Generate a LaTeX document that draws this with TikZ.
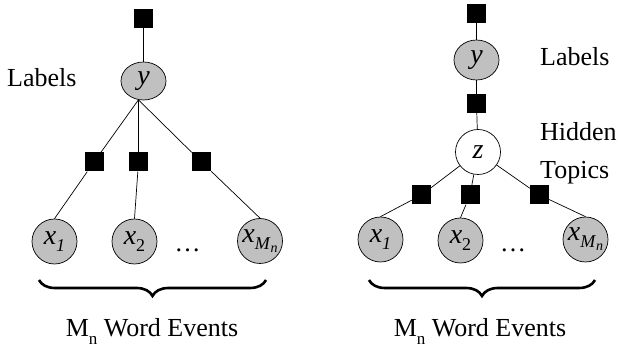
\documentclass[tikz,border=0pt]{standalone}
\usepackage{fontspec}
\setmainfont{Liberation Serif}
\usetikzlibrary{shapes.geometric,decorations.pathreplacing}
\definecolor{nodegray}{RGB}{192,192,192}
\newcommand\subA[1]{\raisebox{-7pt}{\fontsize{18}{18}\selectfont #1}}
\newcommand\subB[1]{\raisebox{-3pt}{\fontsize{14}{14}\selectfont #1}}
\begin{document}
\begin{tikzpicture}[x=1pt,y=-1pt,
  fac/.style={rectangle,fill=black,minimum size=19pt,inner sep=0pt},
  obs/.style={circle,draw,line width=0.7pt,fill=nodegray,minimum size=45pt,inner sep=0pt,font=\fontsize{28}{28}\selectfont},
  lab/.style={ellipse,draw,line width=0.7pt,fill=nodegray,minimum width=45pt,minimum height=38pt,inner sep=0pt,font=\fontsize{28}{28}\selectfont},
  hid/.style={circle,draw,line width=0.7pt,fill=white,minimum size=45pt,inner sep=0pt,font=\fontsize{28}{28}\selectfont},
  txt/.style={inner sep=0pt,font=\fontsize{26}{31}\selectfont},
  edge/.style={draw,line width=0.7pt},
  brc/.style={draw,line width=2.6pt,decorate,decoration={brace,mirror,amplitude=16pt}}]
\useasboundingbox (0,0) rectangle (619,352);
% ---------- left diagram ----------
\node[fac] (lt) at (143.5,18.5) {};
\node[lab] (ly) at (143.5,81) {\textit{y}};
\node[fac] (lf1) at (94,162) {};
\node[fac] (lf2) at (138.5,162) {};
\node[fac] (lf3) at (201.5,162) {};
\node[obs] (lx1) at (54.5,241.5) {\textit{x}\subA{\textit{1}}};
\node[obs] (lx2) at (134.5,241.5) {\textit{x}\subA{2}};
\node[obs] (lxm) at (260,241) {\textit{x}\subA{\textit{M}\subB{\textit{n}}}\hspace{8pt}};
\path[edge] (lt) -- (ly);
\path[edge] (ly.255) -- (lf1) -- (lx1.north);
\path[edge] (ly.255) -- (lf2) -- (lx2.north);
\path[edge] (ly.255) -- (lf3) -- (lxm.north);
\node[txt,anchor=base west] (llab) at (7,87) {Labels};
\node[txt,anchor=base] (ldots) at (187.5,252) {…};
\coordinate (lbA) at (39,280);
\coordinate (lbB) at (266,280);
\path[brc] (lbA) -- (lbB);
\node[txt,anchor=base] (lwe) at (152,337) {M\raisebox{-8pt}{\fontsize{17}{17}\selectfont n} Word Events};
% ---------- right diagram ----------
\node[fac] (rt) at (476.5,13.5) {};
\node[lab,minimum height=40pt] (ry) at (476.5,60) {\textit{y}};
\node[fac] (rm) at (476.5,103.5) {};
\node[hid] (rz) at (478,152) {\textit{z}};
\node[fac] (rf1) at (421.5,195) {};
\node[fac] (rf2) at (470,195) {};
\node[fac] (rf3) at (539.5,195) {};
\node[obs] (rx1) at (380.5,239.5) {\textit{x}\subA{\textit{1}}};
\node[obs] (rx2) at (460.5,240.5) {\textit{x}\subA{2}};
\node[obs] (rxm) at (585.5,239.5) {\textit{x}\subA{\textit{M}\subB{\textit{n}}}\hspace{8pt}};
\path[edge] (rt) -- (ry);
\path[edge] (ry) -- (rm);
\path[edge] (rm) -- (rz);
\path[edge] (rz) -- (rf1) -- (rx1.north);
\path[edge] (rz) -- (rf2) -- (rx2.north);
\path[edge] (rz) -- (rf3) -- (rxm.north);
\node[txt,anchor=base west] (rlab) at (540,66) {Labels};
\node[txt,anchor=base west] (rhid) at (540,141) {Hidden};
\node[txt,anchor=base west] (rtop) at (540,179) {Topics};
\node[txt,anchor=base] (rdots) at (513,252) {…};
\coordinate (rbA) at (369,280);
\coordinate (rbB) at (595,280);
\path[brc] (rbA) -- (rbB);
\node[txt,anchor=base] (rwe) at (480,337) {M\raisebox{-8pt}{\fontsize{17}{17}\selectfont n} Word Events};
\end{tikzpicture}
\end{document}
